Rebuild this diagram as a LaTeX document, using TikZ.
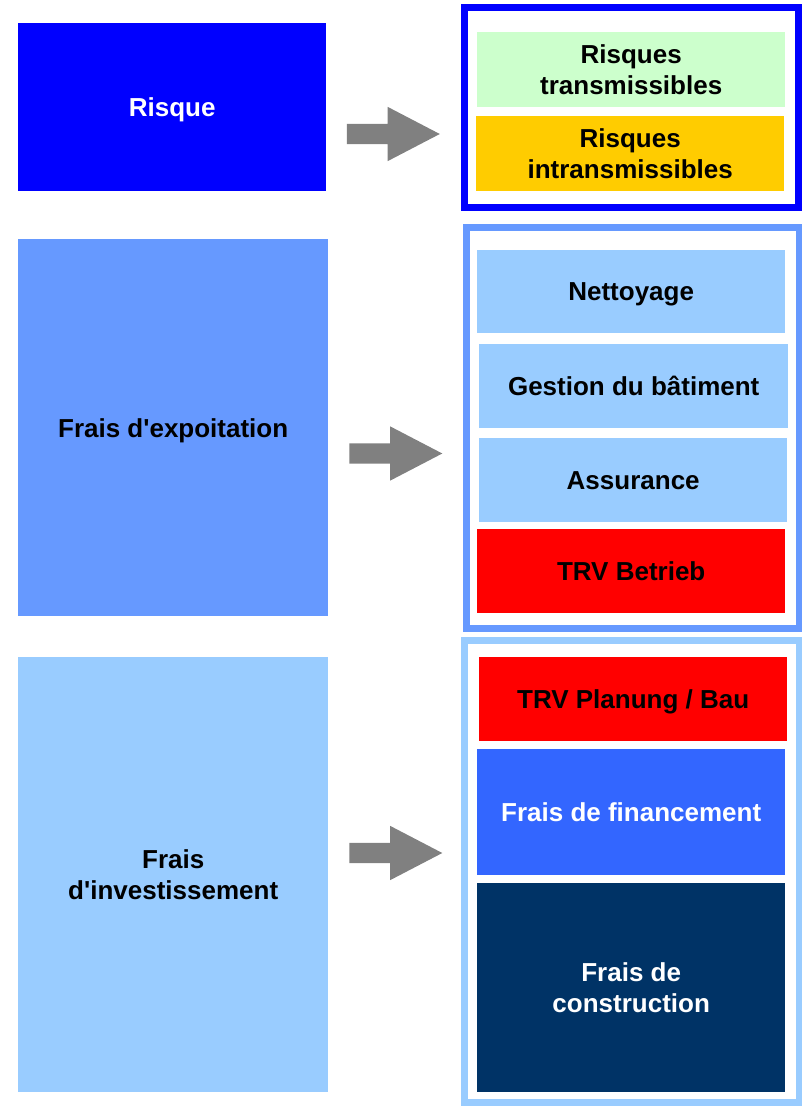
\documentclass[tikz,border=0pt]{standalone}
\usepackage{fontspec}
\setmainfont{Liberation Sans}
\usetikzlibrary{shapes.arrows}

\definecolor{rsqblue}{HTML}{0000FF}
\definecolor{midblue}{HTML}{6699FF}
\definecolor{paleblue}{HTML}{99CCFF}
\definecolor{palegreen}{HTML}{CCFFCC}
\definecolor{gold}{HTML}{FFCC00}
\definecolor{finblue}{HTML}{3366FF}
\definecolor{navy}{HTML}{003366}
\definecolor{arrgray}{HTML}{808080}

\begin{document}
\begin{tikzpicture}[x=1pt, y=-1pt,
  box/.style={anchor=north west, inner sep=0pt, align=center, text depth=0pt,
    font=\bfseries\fontsize{26}{31}\selectfont},
  frame/.style={line width=7pt},
  blockarrow/.style={single arrow, fill=arrgray, minimum height=93pt,
    inner xsep=0pt, inner ysep=10pt, single arrow head extend=17pt,
    single arrow tip angle=55, shape border rotate=0}]
\useasboundingbox (0,0) rectangle (802,1106);

\node[box, fill=rsqblue, text=white, minimum width=308pt, minimum height=168pt] (rsq) at (18,23) {Risque};
\node[box, fill=midblue, minimum width=310pt, minimum height=377pt] (expl) at (18,239) {Frais d\textquotesingle expoitation};
\node[box, fill=paleblue, minimum width=310pt, minimum height=435pt] (inv) at (18,657) {Frais\\d\textquotesingle investissement};

\draw[frame, rsqblue] (464.5,7.5) rectangle (798.5,207.5);
\node[box, fill=palegreen, minimum width=308pt, minimum height=75pt] (trans) at (477,32) {Risques\\transmissibles};
\node[box, fill=gold, minimum width=308pt, minimum height=75pt] (intrans) at (476,116) {Risques\\intransmissibles};

\draw[frame, midblue] (466.5,227.5) rectangle (799,628.5);
\node[box, fill=paleblue, minimum width=308pt, minimum height=83pt] (nett) at (477,250) {Nettoyage};
\node[box, fill=paleblue, minimum width=309pt, minimum height=84pt] (gest) at (479,344) {Gestion du bâtiment};
\node[box, fill=paleblue, minimum width=308pt, minimum height=84pt] (assur) at (479,438) {Assurance};
\node[box, fill=red, minimum width=308pt, minimum height=84pt] (trvb) at (477,529) {TRV Betrieb};

\draw[frame, paleblue] (464.5,640.5) rectangle (799,1102.5);
\node[box, fill=red, minimum width=308pt, minimum height=84pt] (trvp) at (479,657) {TRV Planung / Bau};
\node[box, fill=finblue, text=white, minimum width=308pt, minimum height=126pt] (finan) at (477,749) {Frais de financement};
\node[box, fill=navy, text=white, minimum width=308pt, minimum height=209pt] (constr) at (477,883) {Frais de\\construction};

\node[blockarrow] (arr1) at (383.5,134) {};
\node[blockarrow] (arr2) at (386,453.5) {};
\node[blockarrow] (arr3) at (386,853) {};
\end{tikzpicture}
\end{document}
